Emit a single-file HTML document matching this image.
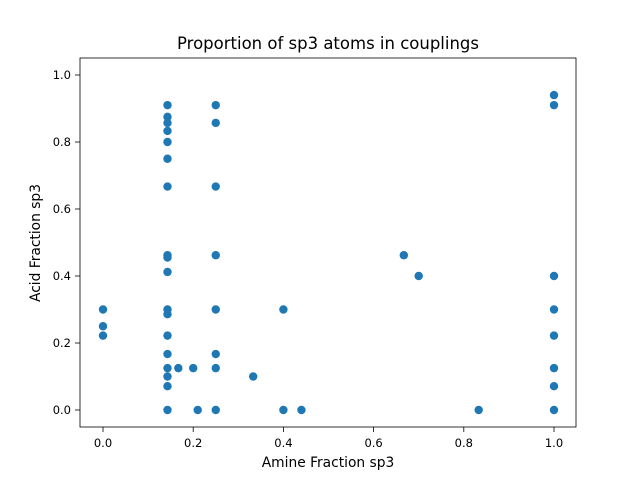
<!DOCTYPE html>
<html><head><meta charset="utf-8"><style>
body{margin:0;background:#fff}
text{font-family:"DejaVu Sans","Liberation Sans",sans-serif;fill:#000}
</style></head><body>
<svg id="chart" width="640" height="480" xmlns="http://www.w3.org/2000/svg">
<rect width="640" height="480" fill="#fff"/>
<text x="328" y="49" font-size="16.5" text-anchor="middle">Proportion of sp3 atoms in couplings</text>
<text x="328" y="467" font-size="13.8" text-anchor="middle">Amine Fraction sp3</text>
<text transform="translate(40,243) rotate(-90)" font-size="13.8" text-anchor="middle">Acid Fraction sp3</text>
<g id="ticks"></g>
<g id="points"></g>
<rect x="80" y="58" width="496" height="369" fill="none" stroke="#000" stroke-width="0.8"/>
</svg>
<script>
const xTicks=[0,0.2,0.4,0.6,0.8,1.0];
const yTicks=[0,0.2,0.4,0.6,0.8,1.0];
const amineX=[0.143,0.143,0.143,0.143,0.143,0.143,0.143,0.143,0.143,0.143,0.143,0.143,0.143,0.143,0.143,0.143,0.143,0.143,
0.25,0.25,0.25,0.25,0.25,0.25,0.25,0.25,
0,0,0,0.167,0.2,0.21,0.333,0.4,0.4,0.44,0.667,0.7,0.833,
1,1,1,1,1,1,1,1];
const acidY=[0.91,0.875,0.857,0.833,0.8,0.75,0.667,0.462,0.455,0.412,0.3,0.286,0.222,0.167,0.125,0.1,0.071,0,
0.91,0.857,0.667,0.462,0.3,0.167,0.125,0,
0.3,0.25,0.222,0.125,0.125,0,0.1,0.3,0,0,0.462,0.4,0,
0.94,0.91,0.4,0.3,0.222,0.125,0.071,0];
const X=v=>103+v*451, Y=v=>410-v*335;
const NS="http://www.w3.org/2000/svg";
const tg=document.getElementById('ticks'), pg=document.getElementById('points');
function mk(t,a,p){const e=document.createElementNS(NS,t);for(const k in a)e.setAttribute(k,a[k]);p.appendChild(e);return e;}
xTicks.forEach(v=>{
 const l=mk('line',{x1:X(v),x2:X(v),y1:427,y2:432,stroke:'#000','stroke-width':0.8},tg);
 
 
 const t=mk('text',{x:X(v),y:447,'font-size':11.5,'text-anchor':'middle'},tg);t.textContent=v.toFixed(1);
 
 
});
yTicks.forEach(v=>{
 const l=mk('line',{x1:75,x2:80,y1:Y(v),y2:Y(v),stroke:'#000','stroke-width':0.8},tg);
 
 
 const t=mk('text',{x:71,y:Y(v)+4,'font-size':11.5,'text-anchor':'end'},tg);t.textContent=v.toFixed(1);
 
 
});
amineX.forEach((v,i)=>{
 const c=mk('circle',{cx:X(v),cy:Y(acidY[i]),r:4.2,fill:'#1f77b4'},pg);
 
 
});
</script>
</body></html>
